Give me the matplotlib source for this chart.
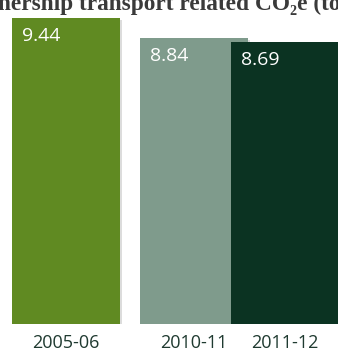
import matplotlib
matplotlib.use("Agg")
import matplotlib.pyplot as plt
import matplotlib.patheffects as pe

# CO2e per year
years = ["2005-06", "2010-11", "2011-12"]
co2e = [9.44, 8.84, 8.69]
bar_colors = ["#608a22", "#7f9b8c", "#0b3322"]

# bar layout (x units of 100 px)
positions = [0.0, 1.28, 2.19]
bar_width = 1.08

fig = plt.figure(figsize=(3.38, 3.51), dpi=100)
ax = fig.add_axes([0, 27 / 351, 1, 324 / 351])
ax.set_xlim(-0.66, 2.72)
ax.set_ylim(0, 10.0)

shadow = [pe.withSimplePatchShadow(offset=(1.5, -1.5), shadow_rgbFace="#777777", alpha=0.25)]
bars = ax.bar(positions, co2e, width=bar_width, color=bar_colors, linewidth=0,
              path_effects=shadow)

for rect, val in zip(bars, co2e):
    ax.annotate(f"{val:.2f}", xy=(rect.get_x(), rect.get_height()),
                xytext=(10, -9), textcoords="offset pixels",
                ha="left", va="top", color="white", fontsize=14,
                family=["Open Sans", "DejaVu Sans"])

ax.set_xticks(positions)
ax.set_xticklabels(years, family=["Open Sans", "DejaVu Sans"], fontsize=13, color="#1f3a30")
ax.tick_params(axis="x", length=0, pad=7)
ax.set_yticks([])
for s in ax.spines.values():
    s.set_visible(False)

fig.text(-37 / 338, 1 - 10 / 351, "Ownership transport related CO₂e (tonnes)",
         ha="left", va="baseline", fontsize=16.8, fontweight="bold", color="#3a3a3a",
         family=["Liberation Serif", "DejaVu Serif"])

fig.savefig("out.png", dpi=100)
